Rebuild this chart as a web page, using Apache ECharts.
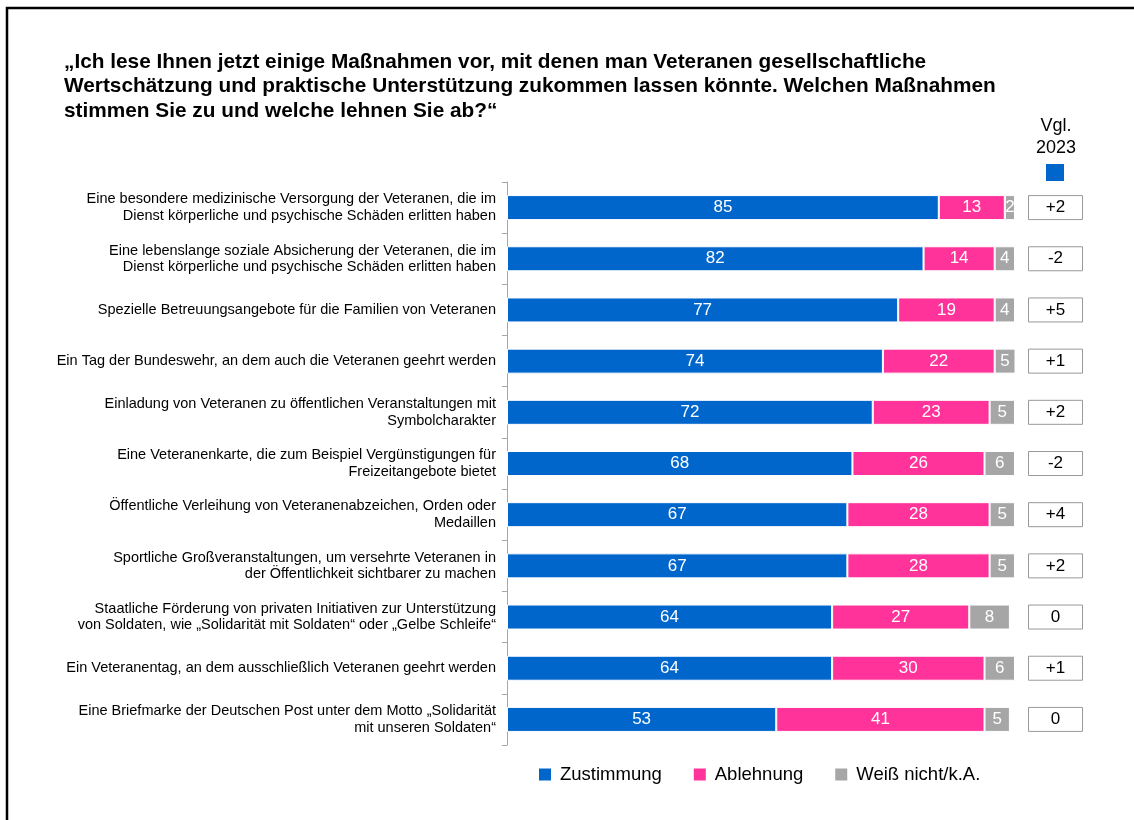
<!DOCTYPE html>
<html>
<head>
<meta charset="utf-8">
<script src="https://cdn.jsdelivr.net/npm/echarts@6/dist/echarts.min.js"></script>
<style>
html, body { margin: 0; padding: 0; background: #fff; }
#chart { width: 1134px; height: 820px; }
</style>
</head>
<body>
<div id="chart"></div>
<script>
// Kategorien (von oben nach unten)
var categories = [
	'Eine besondere medizinische Versorgung der Veteranen, die im\nDienst körperliche und psychische Schäden erlitten haben',
	'Eine lebenslange soziale Absicherung der Veteranen, die im\nDienst körperliche und psychische Schäden erlitten haben',
	'Spezielle Betreuungsangebote für die Familien von Veteranen',
	'Ein Tag der Bundeswehr, an dem auch die Veteranen geehrt werden',
	'Einladung von Veteranen zu öffentlichen Veranstaltungen mit\nSymbolcharakter',
	'Eine Veteranenkarte, die zum Beispiel Vergünstigungen für\nFreizeitangebote bietet',
	'Öffentliche Verleihung von Veteranenabzeichen, Orden oder\nMedaillen',
	'Sportliche Großveranstaltungen, um versehrte Veteranen in\nder Öffentlichkeit sichtbarer zu machen',
	'Staatliche Förderung von privaten Initiativen zur Unterstützung\nvon Soldaten, wie „Solidarität mit Soldaten“ oder „Gelbe Schleife“',
	'Ein Veteranentag, an dem ausschließlich Veteranen geehrt werden',
	'Eine Briefmarke der Deutschen Post unter dem Motto „Solidarität\nmit unseren Soldaten“'
];
var zustimmung = [85, 82, 77, 74, 72, 68, 67, 67, 64, 64, 53];
var ablehnung = [13, 14, 19, 22, 23, 26, 28, 28, 27, 30, 41];
var weissNicht = [2, 4, 4, 5, 5, 6, 5, 5, 8, 6, 5];
// Vergleich 2023
var vgl2023 = ['+2', '-2', '+5', '+1', '+2', '-2', '+4', '+2', '0', '+1', '0'];

var fontFam = '"Liberation Sans", Arial, sans-serif';
var chart = echarts.init(document.getElementById('chart'));

function segment(name, data, color) {
	return {
		name: name,
		type: 'bar',
		stack: 'gesamt',
		barWidth: 25,
		xAxisIndex: 0,
		yAxisIndex: 0,
		itemStyle: {
			color: color,
			borderColor: '#fff',
			borderWidth: 1
		},
		label: {
			show: true,
			position: 'inside',
			color: '#fff',
			fontSize: 17,
			fontFamily: fontFam
		},
		data: data
	};
}

var option = {
	animation: false,
	textStyle: { fontFamily: fontFam },
	title: {
		text: '„Ich lese Ihnen jetzt einige Maßnahmen vor, mit denen man Veteranen gesellschaftliche\nWertschätzung und praktische Unterstützung zukommen lassen könnte. Welchen Maßnahmen\nstimmen Sie zu und welche lehnen Sie ab?“',
		left: 59,
		top: 45,
		textStyle: {
			fontSize: 20.8,
			fontWeight: 'bold',
			color: '#000',
			lineHeight: 24.5,
			fontFamily: fontFam
		}
	},
	legend: {
		left: 532,
		top: 760,
		itemWidth: 14,
		itemHeight: 14,
		itemGap: 30,
		icon: 'rect',
		textStyle: {
			fontSize: 18.5,
			color: '#000',
			padding: [0, 0, 0, 3],
			fontFamily: fontFam
		},
		data: ['Zustimmung', 'Ablehnung', 'Weiß nicht/k.A.']
	},
	graphic: [{
		type: 'rect',
		shape: { x: 7, y: 8, width: 1140, height: 830 },
		style: { fill: 'none', stroke: '#000', lineWidth: 2.5 }
	}, {
		type: 'text',
		x: 1056,
		y: 115,
		style: {
			text: 'Vgl.\n2023',
			align: 'center',
			fontSize: 18,
			lineHeight: 22,
			fill: '#000',
			fontFamily: fontFam
		}
	}, {
		type: 'rect',
		shape: { x: 1046, y: 164, width: 18, height: 17 },
		style: { fill: '#0066CC' }
	}],
	grid: [{
		left: 507,
		top: 182,
		width: 508,
		height: 563,
		containLabel: false
	}, {
		left: 1028,
		top: 182,
		width: 55,
		height: 563,
		containLabel: false
	}],
	xAxis: [{
		gridIndex: 0,
		type: 'value',
		min: 0,
		max: 100,
		show: false
	}, {
		gridIndex: 1,
		type: 'value',
		min: 0,
		max: 1,
		show: false
	}],
	yAxis: [{
		gridIndex: 0,
		type: 'category',
		inverse: true,
		data: categories,
		axisLine: { lineStyle: { color: '#A6A6A6', width: 1 } },
		axisTick: { show: true, length: 5, lineStyle: { color: '#A6A6A6' } },
		axisLabel: {
			margin: 11,
			fontSize: 14.5,
			lineHeight: 16.5,
			color: '#000',
			align: 'right',
			fontFamily: fontFam
		}
	}, {
		gridIndex: 1,
		type: 'category',
		inverse: true,
		data: categories,
		show: false
	}],
	series: [
		segment('Zustimmung', zustimmung, '#0066CC'),
		segment('Ablehnung', ablehnung, '#FF3399'),
		segment('Weiß nicht/k.A.', weissNicht, '#A6A6A6'),
		{
			name: 'Vgl. 2023',
			type: 'bar',
			xAxisIndex: 1,
			yAxisIndex: 1,
			barWidth: 25,
			itemStyle: {
				color: '#fff',
				borderColor: '#999999',
				borderWidth: 1
			},
			label: {
				show: true,
				position: 'inside',
				color: '#000',
				fontSize: 17,
				fontFamily: fontFam,
				formatter: function (p) {
					return vgl2023[p.dataIndex];
				}
			},
			data: vgl2023.map(function () { return 1; })
		}
	]
};
chart.setOption(option);
</script>
</body>
</html>
